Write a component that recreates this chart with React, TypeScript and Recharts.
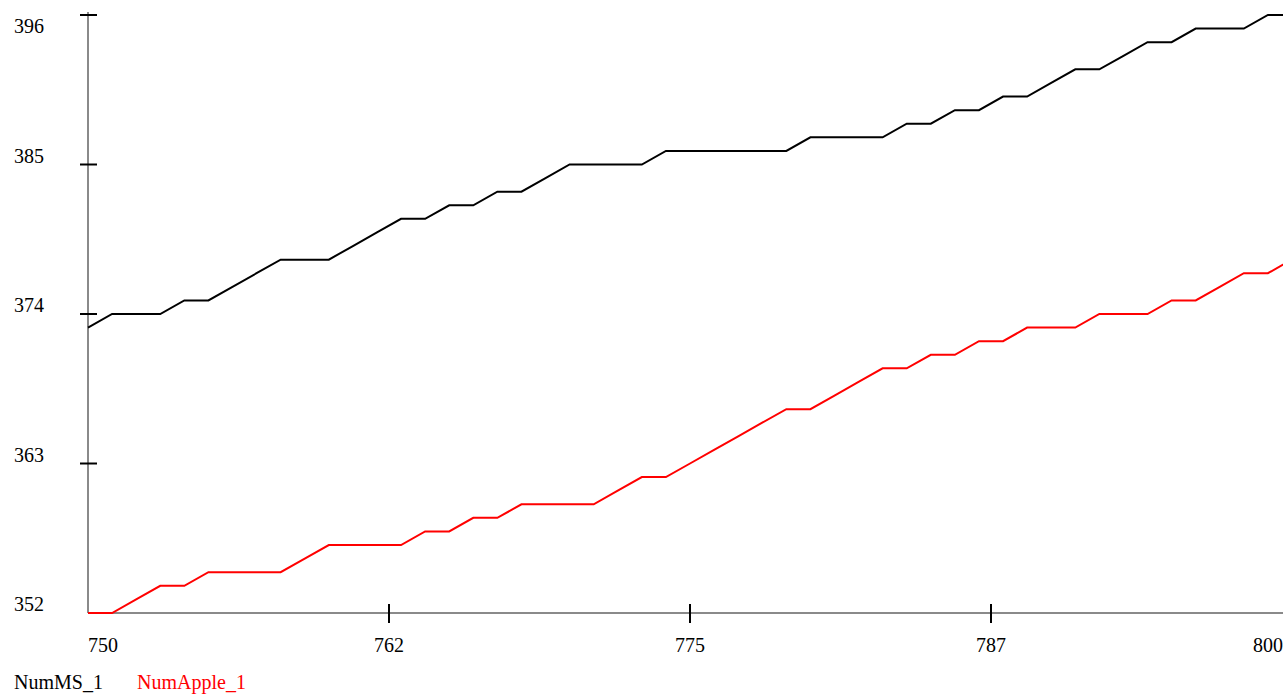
import React from 'react';
import { LineChart, Line, XAxis, YAxis, Legend } from 'recharts';

const xValues = [
  750, 751, 752, 753, 754, 755, 756, 757, 758, 759,
  760, 761, 762, 763, 764, 765, 766, 767, 768, 769,
  770, 771, 772, 773, 774, 775, 776, 777, 778, 779,
  780, 781, 782, 783, 784, 785, 786, 787, 788, 789,
  790, 791, 792, 793, 794, 795, 796, 797, 798, 799, 800,
];

const numMS = [
  373, 374, 374, 374, 375, 375, 376, 377, 378, 378,
  378, 379, 380, 381, 381, 382, 382, 383, 383, 384,
  385, 385, 385, 385, 386, 386, 386, 386, 386, 386,
  387, 387, 387, 387, 388, 388, 389, 389, 390, 390,
  391, 392, 392, 393, 394, 394, 395, 395, 395, 396, 396,
];

const numApple = [
  352, 352, 353, 354, 354, 355, 355, 355, 355, 356,
  357, 357, 357, 357, 358, 358, 359, 359, 360, 360,
  360, 360, 361, 362, 362, 363, 364, 365, 366, 367,
  367, 368, 369, 370, 370, 371, 371, 372, 372, 373,
  373, 373, 374, 374, 374, 375, 375, 376, 377, 377, 378,
];

const xTicks = [750, 762.5, 775, 787.5, 800];
const yTicks = [352, 363, 374, 385, 396];
const seriesNames = ['NumMS_1', 'NumApple_1'];
const seriesColors = ['#000000', '#ff0000'];

const data = xValues.map((x, i) => ({
  x,
  [seriesNames[0]]: numMS[i],
  [seriesNames[1]]: numApple[i],
}));

const FONT = '"Liberation Serif", "Times New Roman", Times, serif';

function XTick(props: any) {
  const { x, y, payload } = props;
  const v = payload.value;
  const first = v === xTicks[0];
  const last = v === xTicks[xTicks.length - 1];
  return (
    <g>
      {!first && !last && (
        <line x1={x} x2={x} y1={y - 9} y2={y + 10} stroke="#000" strokeWidth={2} />
      )}
      <text
        x={last ? x - 9 : x}
        y={y + 39}
        textAnchor={first ? 'start' : last ? 'end' : 'middle'}
        fontFamily={FONT}
        fontSize={20}
        fill="#000"
      >
        {Math.floor(v)}
      </text>
    </g>
  );
}

function YTick(props: any) {
  const { x, y, payload } = props;
  const v = payload.value;
  const bottom = v === yTicks[0];
  const top = v === yTicks[yTicks.length - 1];
  return (
    <g>
      {top && <line x1={x} x2={x} y1={y - 3} y2={y} stroke="#8a8a8a" strokeWidth={2} />}
      {!bottom && (
        <line x1={x - 8} x2={x + 9} y1={y} y2={y} stroke="#000" strokeWidth={2} />
      )}
      <text
        x={x - 74}
        y={top ? y + 18 : y - 2}
        textAnchor="start"
        fontFamily={FONT}
        fontSize={20}
        fill="#000"
      >
        {v}
      </text>
    </g>
  );
}

function LegendContent(props: any) {
  const payload = [...(props.payload || [])].sort(
    (a: any, b: any) => seriesNames.indexOf(a.value) - seriesNames.indexOf(b.value)
  );
  return (
    <div style={{ fontFamily: FONT, fontSize: 20, lineHeight: '24px', whiteSpace: 'nowrap' }}>
      {payload.map((item: any, i: number) => (
        <span
          key={i}
          style={{ display: 'inline-block', width: i === 0 ? 123 : 'auto', color: item.color }}
        >
          {item.value}
        </span>
      ))}
    </div>
  );
}

export default function App() {
  return (
    <div
      style={{
        position: 'fixed',
        left: 0,
        top: 0,
        width: 1283,
        height: 695,
        overflow: 'hidden',
        background: '#fff',
      }}
    >
      <LineChart
        width={1300}
        height={695}
        data={data}
        margin={{ top: 15, right: 8, bottom: 0, left: 0 }}
      >
        <XAxis
          type="number"
          dataKey="x"
          domain={[750, 800]}
          ticks={xTicks}
          interval={0}
          height={82}
          tickSize={0}
          tickMargin={0}
          tickLine={false}
          axisLine={{ stroke: '#8a8a8a', strokeWidth: 2 }}
          tick={<XTick />}
        />
        <YAxis
          type="number"
          domain={[352, 396]}
          ticks={yTicks}
          interval={0}
          width={88}
          tickSize={0}
          tickMargin={0}
          tickLine={false}
          axisLine={{ stroke: '#8a8a8a', strokeWidth: 2 }}
          tick={<YTick />}
        />
        <Legend
          layout="vertical"
          align="center"
          verticalAlign="middle"
          itemSorter={null as any}
          wrapperStyle={{ left: 14, top: 670, width: 400, height: 24 }}
          content={<LegendContent />}
        />
        {seriesNames.map((name, i) => (
          <Line
            key={name}
            type="linear"
            dataKey={name}
            name={name}
            stroke={seriesColors[i]}
            strokeWidth={2}
            dot={false}
            activeDot={false}
            isAnimationActive={false}
            {...({ zIndex: 1000 } as any)}
          />
        ))}
      </LineChart>
    </div>
  );
}
